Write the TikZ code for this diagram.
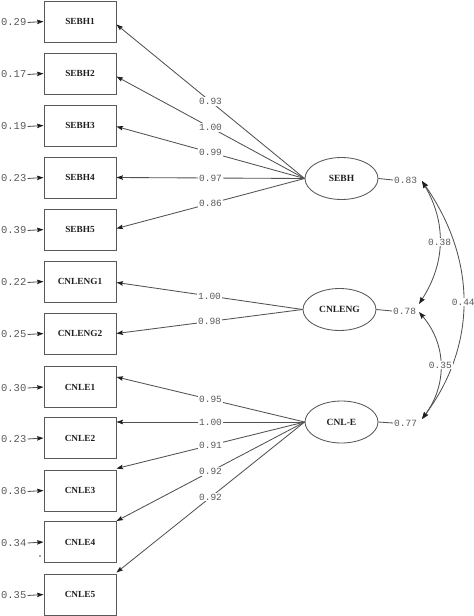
\documentclass[tikz,border=0pt]{standalone}
\usepackage{fontspec}
\setmainfont{Liberation Serif}
\newfontfamily\monof{Liberation Mono}
\usetikzlibrary{arrows.meta,calc,shapes.geometric}
\begin{document}
\begin{tikzpicture}[x=1pt,y=-1pt,
  line/.style={draw=black!68, line width=0.85pt},
  arr/.style={line, -{Stealth[length=6.5pt,width=4.5pt,inset=1pt,color=black!88]}},
  arrb/.style={line, {Stealth[length=7pt,width=5pt,inset=1pt,color=black!88]}-{Stealth[length=7pt,width=5pt,inset=1pt,color=black!88]}},
  obs/.style={draw=black!65, line width=0.95pt, minimum width=72pt, minimum height=41pt, inner sep=0pt, font=\fontsize{9.3}{10}\selectfont\bfseries, text=black!88},
  lat/.style={ellipse, draw=black!65, line width=0.85pt, minimum width=73pt, minimum height=42pt, inner sep=0pt, font=\fontsize{9.5}{10}\selectfont\bfseries, text=black!88},
  num/.style={font=\monof\fontsize{9.5}{10}\selectfont, text=black!65, inner sep=1pt},
  errnum/.style={font=\monof\fontsize{10.5}{11}\selectfont, text=black!65, inner sep=1pt},
  lab/.style={num, fill=white},
]
\path[use as bounding box] (0,0) rectangle (474,616);

% observed variables
\node[obs] (s1) at (80,21.5) {SEBH1};
\node[obs] (s2) at (80,73.5) {SEBH2};
\node[obs] (s3) at (80,125.5) {SEBH3};
\node[obs] (s4) at (80,177.5) {SEBH4};
\node[obs] (s5) at (80,229.5) {SEBH5};
\node[obs] (g1) at (80,281.5) {CNLENG1};
\node[obs] (g2) at (80,333.5) {CNLENG2};
\node[obs] (c1) at (80,387) {CNLE1};
\node[obs] (c2) at (80,438) {CNLE2};
\node[obs] (c3) at (80,490.5) {CNLE3};
\node[obs] (c4) at (80,542) {CNLE4};
\node[obs] (c5) at (80,594.5) {CNLE5};

% latent variables
\node[lat] (S) at (341.5,178.5) {SEBH};
\node[lat] (N) at (339.5,309.5) {CNLENG};
\node[lat] (E) at (341.5,422) {CNL-E};

% error terms
\foreach \b/\v in {s1/0.29,s2/0.17,s3/0.19,s4/0.23,s5/0.39,g1/0.22,g2/0.25,c1/0.30,c2/0.23,c3/0.36,c4/0.34,c5/0.35}{
  \node[errnum, anchor=east] (e\b) at ($(\b.west)+(-16,1)$) {\v};
  \draw[arr] (e\b.east) -- (\b.west);
}
\fill[black!70] (40,556) circle (0.8);

% loadings
\draw[arr] (S.west) -- node[lab]{0.93} ($(s1.east)+(0,3)$);
\draw[arr] (S.west) -- node[lab]{1.00} ($(s2.east)+(0,3)$);
\draw[arr] (S.west) -- node[lab]{0.99} ($(s3.east)+(0,1)$);
\draw[arr] (S.west) -- node[lab]{0.97} (s4.east);
\draw[arr] (S.west) -- node[lab]{0.86} ($(s5.east)+(0,-1)$);
\draw[arr] (N.west) -- node[lab]{1.00} ($(g1.east)+(0,1)$);
\draw[arr] (N.west) -- node[lab]{0.98} (g2.east);
\draw[arr] (E.west) -- node[lab]{0.95} ($(c1.east)+(0,-10)$);
\draw[arr] (E.west) -- node[lab]{1.00} ($(c2.east)+(0,-16)$);
\draw[arr] (E.west) -- node[lab]{0.91} ($(c3.north east)+(0,-1)$);
\draw[arr] (E.west) -- node[lab]{0.92} (c4.north east);
\draw[arr] (E.west) -- node[lab]{0.92} ($(c5.north east)+(0,-1)$);

% variances
\node[num, anchor=west] (vS) at (393,180) {0.83};
\node[num, anchor=west] (vN) at (392,311) {0.78};
\node[num, anchor=west] (vE) at (393,423) {0.77};
\draw[line] (S.east) -- (vS.west);
\draw[line] (N.east) -- (vN.west);
\draw[line] (E.east) -- (vE.west);
\coordinate (tS) at (422,181);
\coordinate (tN1) at (419,304);
\coordinate (tN2) at (419,312);
\coordinate (tE) at (422,419);

% correlations
\draw[arrb] (tS) .. controls (446,222) and (446,262) .. node[lab]{0.38} (tN1);
\draw[arrb] (tS) .. controls (477,260) and (477,345) .. node[lab]{0.44} (tE);
\draw[arrb] (tN2) .. controls (447,345) and (447,385) .. node[lab]{0.35} (tE);
\end{tikzpicture}
\end{document}
